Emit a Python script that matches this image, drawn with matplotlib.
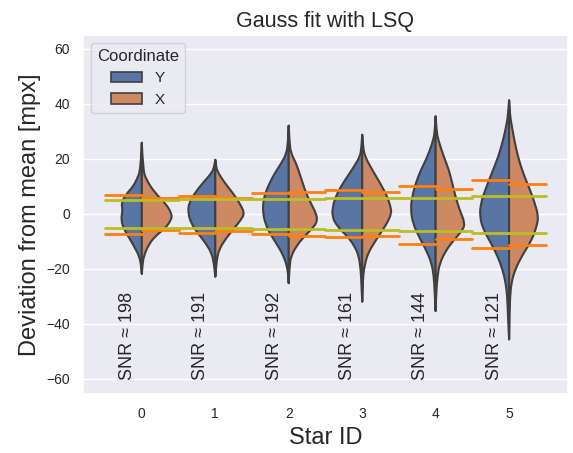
import matplotlib
matplotlib.use("Agg")
import matplotlib.pyplot as plt
from matplotlib.path import Path
from matplotlib.patches import PathPatch, Patch
import seaborn as sns

sns.set_theme(style="darkgrid")
plt.rcParams["font.family"] = ["Liberation Sans", "DejaVu Sans"]

star_ids = [0, 1, 2, 3, 4, 5]
snr = [198, 191, 192, 161, 144, 121]
coordinates = ["Y", "X"]

# Kernel density profiles: deviation levels [mpx] and half-widths of each violin side
y_levels = [
    [25.8, 16, 12.4, 9.9, 6.9, 3.9, 1.5, -2.2, -5.8, -9.5, -13.1, -15.5, -18.5, -21.8],
    [19.6, 17, 14.8, 11.2, 7.5, 3.9, 0.25, -3.4, -7.0, -10.7, -14.3, -17.9, -22.8],
    [32, 26, 22, 18.4, 14.8, 11.2, 7.5, 3.9, 0.25, -3.4, -7.0, -10.7, -14.3, -17.9, -21, -25.2],
    [28.7, 24, 20.8, 17.2, 13.6, 9.9, 6.3, 2.7, -1.0, -4.6, -8.2, -11.9, -15.5, -20.4, -26, -31.9],
    [35.4, 30, 26.9, 20.8, 16, 11.2, 6.3, 1.5, -3.4, -8.2, -13.1, -17.9, -22.8, -27.6, -35.3],
    [41.2, 36, 33, 26.9, 20.8, 14.8, 8.7, 3.9, -1, -5.8, -10.7, -15.5, -20.4, -25.2, -30, -37.3, -45.6],
]
width_y = [
    [0, 0.015, 0.07, 0.12, 0.22, 0.28, 0.26, 0.285, 0.24, 0.155, 0.08, 0.035, 0.012, 0],
    [0, 0.015, 0.05, 0.17, 0.28, 0.36, 0.37, 0.33, 0.24, 0.13, 0.05, 0.02, 0],
    [0, 0.01, 0.03, 0.10, 0.19, 0.26, 0.32, 0.35, 0.35, 0.32, 0.26, 0.17, 0.09, 0.035, 0.012, 0],
    [0, 0.01, 0.03, 0.11, 0.20, 0.29, 0.36, 0.40, 0.41, 0.34, 0.20, 0.10, 0.045, 0.02, 0.01, 0],
    [0, 0.012, 0.03, 0.11, 0.20, 0.27, 0.32, 0.34, 0.31, 0.23, 0.13, 0.055, 0.025, 0.015, 0],
    [0, 0.015, 0.03, 0.08, 0.145, 0.235, 0.325, 0.385, 0.40, 0.35, 0.245, 0.155, 0.087, 0.046, 0.025, 0.015, 0],
]
y_levels_x = [
    [25.8, 16, 12.4, 7.5, 3.9, 0, -2.2, -5.2, -8.2, -11.3, -15.5, -18.5, -21.8],
    [19.6, 17, 14.8, 11.2, 7.5, 3.9, 0.25, -2.2, -5.8, -9.5, -13.1, -16.7, -22.8],
    [32, 26, 22, 18.4, 14.8, 11.2, 7.5, 3.9, 0.25, -2.2, -4.6, -8.2, -11.9, -15.5, -19, -25.2],
    [28.7, 24, 20.8, 17.2, 13.6, 9.9, 6.3, 2.7, 0.25, -3.4, -7.0, -10.7, -14.3, -17.9, -22.8, -31.9],
    [35.4, 30, 26.9, 20.8, 16, 11.2, 6.3, 1.5, -3.4, -5.8, -9.5, -13.1, -17.9, -22.8, -28, -35.3],
    [41.2, 36, 33, 26.9, 20.8, 14.8, 8.7, 3.9, -1, -4.6, -9.5, -15.5, -20.4, -25.2, -30, -36, -45.6],
]
width_x = [
    [0, 0.015, 0.06, 0.18, 0.32, 0.41, 0.40, 0.32, 0.18, 0.09, 0.025, 0.01, 0],
    [0, 0.01, 0.04, 0.13, 0.24, 0.33, 0.40, 0.35, 0.24, 0.13, 0.05, 0.02, 0],
    [0, 0.01, 0.03, 0.10, 0.145, 0.19, 0.235, 0.30, 0.37, 0.39, 0.35, 0.21, 0.10, 0.03, 0.012, 0],
    [0, 0.012, 0.04, 0.11, 0.19, 0.27, 0.34, 0.385, 0.40, 0.34, 0.25, 0.16, 0.08, 0.04, 0.01, 0],
    [0, 0.012, 0.035, 0.11, 0.18, 0.225, 0.27, 0.325, 0.40, 0.37, 0.25, 0.145, 0.055, 0.025, 0.01, 0],
    [0, 0.012, 0.03, 0.07, 0.12, 0.19, 0.285, 0.35, 0.40, 0.375, 0.31, 0.17, 0.08, 0.03, 0.015, 0.005, 0],
]

# Measured mean +/- std per coordinate [mpx]
std_y_hi = [7.0, 6.3, 7.4, 8.6, 10.2, 12.1]
std_y_lo = [-7.5, -6.8, -7.5, -8.6, -10.8, -12.6]
std_x_hi = [5.6, 5.9, 7.9, 7.8, 8.9, 10.9]
std_x_lo = [-5.9, -6.4, -8.2, -8.2, -9.0, -11.2]
# Expected scatter from the fit model [mpx]
model_hi = [5.0, 5.3, 5.3, 5.6, 5.7, 6.3]
model_lo = [-5.3, -5.3, -5.5, -5.8, -6.2, -6.8]

pal = sns.color_palette("deep")
col_y = sns.desaturate(pal[0], 0.75)
col_x = sns.desaturate(pal[1], 0.75)
edge = "#3f3f3f"


def half_violin(cx, ys, ws, side):
    pts = [(cx + side * w, y) for y, w in zip(ys, ws)]
    verts = [pts[0]]
    codes = [Path.MOVETO]
    for k in range(1, len(pts) - 1):
        nxt = pts[k + 1]
        mid = ((pts[k][0] + nxt[0]) / 2, (pts[k][1] + nxt[1]) / 2)
        verts += [pts[k], mid]
        codes += [Path.CURVE3, Path.CURVE3]
    verts += [pts[-1], pts[0], pts[0]]
    codes += [Path.LINETO, Path.LINETO, Path.CLOSEPOLY]
    return Path(verts, codes)


fig = plt.figure(figsize=(5.73, 4.53), dpi=100)
ax = fig.add_axes([0.145, 0.130, 0.846, 0.793])

for i in star_ids:
    for ys, ws, side, col in [(y_levels[i], width_y[i], -1, col_y),
                              (y_levels_x[i], width_x[i], 1, col_x)]:
        ax.add_patch(PathPatch(half_violin(i, ys, ws, side), facecolor=col,
                               edgecolor=edge, lw=1.5, joinstyle="round", zorder=2))

for i in star_ids:
    ax.plot([i - 0.5, i], [std_y_hi[i]] * 2, color="#ff7f0e", lw=2, zorder=3)
    ax.plot([i - 0.5, i], [std_y_lo[i]] * 2, color="#ff7f0e", lw=2, zorder=3)
    ax.plot([i, i + 0.5], [std_x_hi[i]] * 2, color="#ff7f0e", lw=2, zorder=3)
    ax.plot([i, i + 0.5], [std_x_lo[i]] * 2, color="#ff7f0e", lw=2, zorder=3)
    ax.plot([i - 0.5, i + 0.5], [model_hi[i]] * 2, color="#bcbd22", lw=2, zorder=3)
    ax.plot([i - 0.5, i + 0.5], [model_lo[i]] * 2, color="#bcbd22", lw=2, zorder=3)
    ax.text(i - 0.2, -60.5, f"SNR \u2248 {snr[i]}", rotation=90, ha="center",
            va="bottom", fontsize=13, color=".15")

ax.set_xlim(-0.8, 5.8)
ax.set_ylim(-65.5, 65)
ax.set_xticks(star_ids)
ax.set_xticklabels([str(s) for s in star_ids])
ax.set_yticks([-60, -40, -20, 0, 20, 40, 60])
ax.tick_params(labelsize=10)
ax.xaxis.grid(False)
ax.set_xlabel("Star ID", fontsize=17)
ax.set_ylabel("Deviation from mean [mpx]", fontsize=17)
ax.set_title("Gauss fit with LSQ", fontsize=15.5)

handles = [Patch(facecolor=col_y, edgecolor=edge, lw=1.2, label=coordinates[0]),
           Patch(facecolor=col_x, edgecolor=edge, lw=1.2, label=coordinates[1])]
ax.legend(handles=handles, title="Coordinate", loc="upper left",
          fontsize=11, title_fontsize=12)

fig.savefig("out.png", dpi=100)
